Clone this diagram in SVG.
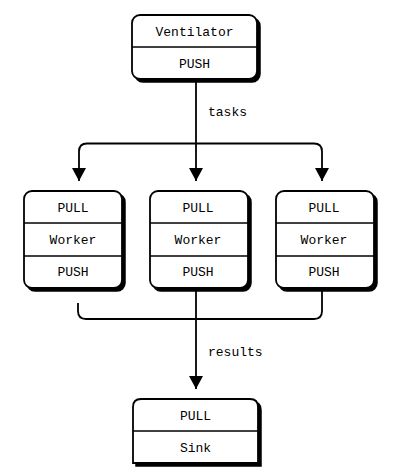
<svg xmlns="http://www.w3.org/2000/svg" width="405" height="475" viewBox="0 0 405 475">
<style>
.sh{fill:#000;stroke:#000;stroke-width:1.5}
.bx{fill:#fff;stroke:#000;stroke-width:1.8}
.dv{stroke:#000;stroke-width:1.5}
.t{font-family:"Liberation Mono","DejaVu Sans Mono",monospace;font-size:13px;fill:#000;text-anchor:middle}
.l{font-family:"Liberation Mono","DejaVu Sans Mono",monospace;font-size:13px;fill:#000}
.c{fill:none;stroke:#000;stroke-width:1.8}
</style>
<defs>
<marker id="ah" markerWidth="14" markerHeight="14" refX="13" refY="7" orient="auto" markerUnits="userSpaceOnUse">
<path d="M0,0 L13,7 L0,14 Z" fill="#000"/>
</marker>
</defs>
<rect width="405" height="475" fill="#fff"/>
<g id="connectors">
<path class="c" d="M196,82 V181" marker-end="url(#ah)"/>
<path class="c" d="M196,143.5 H87 Q79,143.5 79,151.5 V181" marker-end="url(#ah)"/>
<path class="c" d="M196,143.5 H314 Q322,143.5 322,151.5 V181" marker-end="url(#ah)"/>
<path class="c" d="M78,303 V311 Q78,319 86,319 H314 Q322,319 322,311 V291"/>
<path class="c" d="M196,291 V389" marker-end="url(#ah)"/>
<text class="l" x="208" y="116">tasks</text>
<text class="l" x="208" y="356">results</text>
</g>
<g id="ventilator">
<rect class="sh" x="135" y="18" width="125" height="64" rx="8"/>
<rect class="bx" x="132" y="15" width="125" height="64" rx="8"/>
<line class="dv" x1="132" y1="47" x2="257" y2="47"/>
<text class="t" x="194.5" y="36">Ventilator</text>
<text class="t" x="194.5" y="68">PUSH</text>
</g>
<g id="worker1">
<rect class="sh" x="27" y="194" width="98" height="97" rx="8"/>
<rect class="bx" x="24" y="191" width="98" height="97" rx="8"/>
<line class="dv" x1="24" y1="223" x2="122" y2="223"/>
<line class="dv" x1="24" y1="256" x2="122" y2="256"/>
<text class="t" x="73" y="212">PULL</text>
<text class="t" x="73" y="244">Worker</text>
<text class="t" x="73" y="276">PUSH</text>
</g>
<g id="worker2">
<rect class="sh" x="153" y="194" width="98" height="97" rx="8"/>
<rect class="bx" x="150" y="191" width="98" height="97" rx="8"/>
<line class="dv" x1="150" y1="223" x2="248" y2="223"/>
<line class="dv" x1="150" y1="256" x2="248" y2="256"/>
<text class="t" x="198" y="212">PULL</text>
<text class="t" x="198" y="244">Worker</text>
<text class="t" x="198" y="276">PUSH</text>
</g>
<g id="worker3">
<rect class="sh" x="279" y="194" width="98" height="97" rx="8"/>
<rect class="bx" x="276" y="191" width="98" height="97" rx="8"/>
<line class="dv" x1="276" y1="223" x2="374" y2="223"/>
<line class="dv" x1="276" y1="256" x2="374" y2="256"/>
<text class="t" x="324" y="212">PULL</text>
<text class="t" x="324" y="244">Worker</text>
<text class="t" x="324" y="276">PUSH</text>
</g>
<g id="sink">
<path class="sh" d="M136,466 V410 Q136,402 144,402 H253 Q261,402 261,410 V466 Z"/>
<path class="bx" d="M133,463 V407 Q133,399 141,399 H250 Q258,399 258,407 V463 Z"/>
<line class="dv" x1="133" y1="431" x2="258" y2="431"/>
<text class="t" x="195.5" y="420">PULL</text>
<text class="t" x="195.5" y="452">Sink</text>
</g>
</svg>
